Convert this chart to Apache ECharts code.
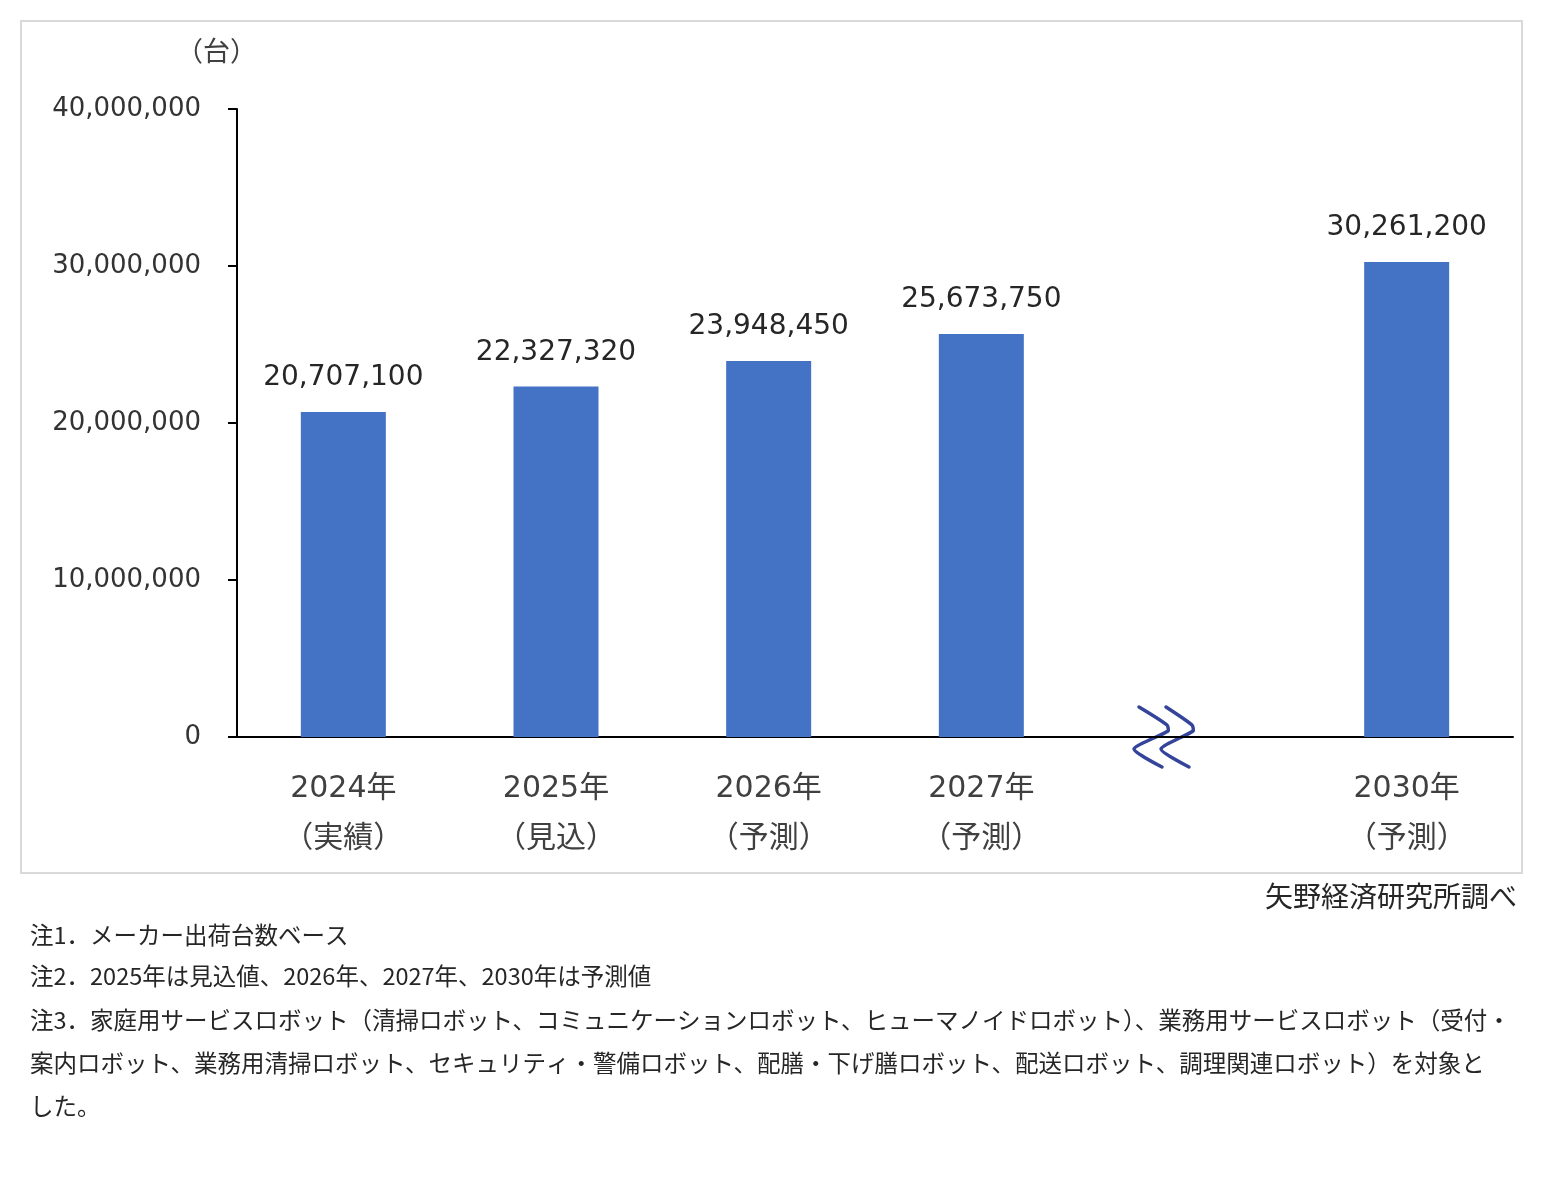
<!DOCTYPE html>
<html>
<head>
<meta charset="utf-8">
<title>サービスロボット 出荷台数</title>
<script src="https://cdn.jsdelivr.net/npm/echarts@6/dist/echarts.min.js"></script>
<style>
html, body { margin: 0; padding: 0; background: #fff; }
#main { width: 1542px; height: 1200px; }
</style>
</head>
<body>
<div id="main"></div>
<script>
var categories = ['2024年\n（実績）', '2025年\n（見込）', '2026年\n（予測）', '2027年\n（予測）', '', '2030年\n（予測）'];
var shipments = [20707100, 22327320, 23948450, 25673750, '-', 30261200];
var yMin = 0;
var yMax = 40000000;
var yStep = 10000000;
var breakIndex = 4;

var notes = [
    '注1．メーカー出荷台数ベース',
    '注2．2025年は見込値、2026年、2027年、2030年は予測値',
    '注3．家庭用サービスロボット（清掃ロボット、コミュニケーションロボット、ヒューマノイドロボット）、業務用サービスロボット（受付・',
    '案内ロボット、業務用清掃ロボット、セキュリティ・警備ロボット、配膳・下げ膳ロボット、配送ロボット、調理関連ロボット）を対象と',
    'した。'
];
var noteY = [937, 978, 1022, 1065, 1108];

var numFont = "'DejaVu Sans', 'Noto Sans CJK JP', sans-serif";
var jpFont = "'Noto Sans CJK JP', sans-serif";

function commas(v) {
    return String(v).replace(/\B(?=(\d{3})+(?!\d))/g, ',');
}

var chart = echarts.init(document.getElementById('main'));

var graphics = [
    {
        type: 'rect',
        shape: { x: 21, y: 21, width: 1501, height: 852 },
        style: { fill: 'none', stroke: '#d9d9d9', lineWidth: 2 },
        silent: true
    },
    {
        type: 'text',
        left: 176,
        top: 37,
        style: { text: '（台）', font: '27px ' + jpFont, fill: '#404040' }
    },
    {
        type: 'text',
        right: 25,
        top: 882,
        style: { text: '矢野経済研究所調べ', font: '28px ' + jpFont, fill: '#262626' }
    }
];
for (var i = 0; i < notes.length; i++) {
    graphics.push({
        type: 'text',
        left: 30,
        top: noteY[i] - 14,
        style: { text: notes[i], font: '23.5px ' + jpFont, fill: '#262626' }
    });
}

var option = {
    backgroundColor: '#fff',
    animation: false,
    grid: { left: 237, right: 29, top: 109, bottom: 463 },
    xAxis: {
        type: 'category',
        data: categories,
        axisLine: { lineStyle: { color: '#000', width: 2 } },
        axisTick: { show: false },
        axisLabel: {
            interval: 0,
            margin: 27,
            fontSize: 30,
            lineHeight: 50,
            color: '#404040',
            fontFamily: numFont
        }
    },
    yAxis: {
        type: 'value',
        min: yMin,
        max: yMax,
        interval: yStep,
        axisLine: { show: true, lineStyle: { color: '#000', width: 2 } },
        axisTick: { show: true, length: 9, lineStyle: { color: '#000', width: 2 } },
        splitLine: { show: false },
        axisLabel: {
            margin: 36,
            fontSize: 26,
            color: '#333',
            fontFamily: numFont,
            formatter: function (v) { return commas(v); }
        }
    },
    series: [
        {
            type: 'bar',
            data: shipments,
            barWidth: 85,
            itemStyle: { color: '#4472C4' },
            label: {
                show: true,
                position: 'top',
                distance: 20,
                fontSize: 28,
                color: '#262626',
                fontFamily: numFont,
                formatter: function (p) { return commas(p.value); }
            }
        }
    ],
    graphic: graphics
};
chart.setOption(option);

// 省略記号（2027年と2030年の間）
var bx = chart.convertToPixel({ xAxisIndex: 0 }, breakIndex) - 29;
var by = chart.convertToPixel({ yAxisIndex: 0 }, 0);
var zig = [[-26, -30], [2, -12], [3, -6], [-31, 12], [-3, 30]];
var zig2 = [[1, -30], [27, -12], [28, -6], [-4, 12], [24, 30]];
function shift(pts) {
    return pts.map(function (p) { return [bx + p[0], by + p[1]]; });
}
graphics.push({
    type: 'polyline',
    shape: { points: shift(zig), smooth: 0.2 },
    style: { stroke: '#34449A', lineWidth: 3.5, fill: 'none', lineCap: 'round' },
    silent: true
});
graphics.push({
    type: 'polyline',
    shape: { points: shift(zig2), smooth: 0.2 },
    style: { stroke: '#34449A', lineWidth: 3.5, fill: 'none', lineCap: 'round' },
    silent: true
});
chart.setOption({ graphic: graphics });
</script>
</body>
</html>
